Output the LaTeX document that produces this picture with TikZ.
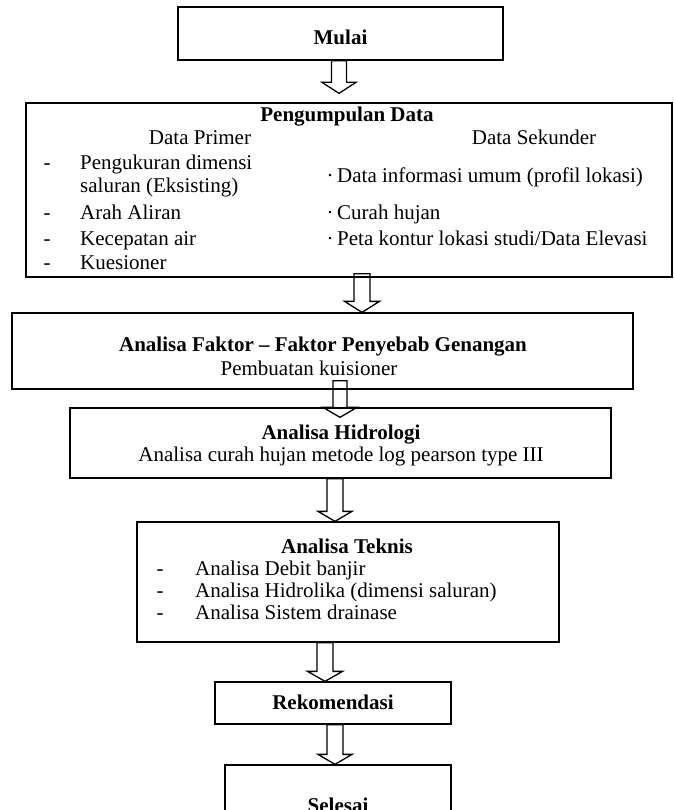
\documentclass[tikz,border=0pt]{standalone}
\usepackage{fontspec}
\setmainfont{Liberation Serif}
\usetikzlibrary{calc}
\newcommand\blockarrow[5]{%
  \draw[blk] let \p1=(#1), \p2=(#2) in
    (\x1-#4pt,\y1) -- (\x1-#4pt,\y2+#3pt) -- (\x1-#5pt,\y2+#3pt) -- (\x1,\y2)
    -- (\x1+#5pt,\y2+#3pt) -- (\x1+#4pt,\y2+#3pt) -- (\x1+#4pt,\y1) -- cycle;}
\begin{document}
\begin{tikzpicture}[x=1pt,y=-1pt,
  box/.style={draw, line width=1.3pt, fill=white, inner sep=0pt},
  txt/.style={anchor=base, inner sep=0pt, font=\fontsize{21}{25}\selectfont},
  btxt/.style={anchor=base, inner sep=0pt, font=\fontsize{21}{25}\selectfont\bfseries},
  ltxt/.style={txt, anchor=base west},
  blk/.style={draw, line width=1.3pt, line join=miter}]
\useasboundingbox (0,0) rectangle (673,810);
\clip (0,0) rectangle (673,810);

% boxes
\node[box, minimum width=325pt, minimum height=53pt] (mulai) at (340.5,33.5) {};
\node[box, minimum width=646pt, minimum height=174pt] (peng) at (349,190) {};
\node[box, minimum width=621pt, minimum height=76pt] (faktor) at (322.5,351) {};
\node[box, minimum width=541pt, minimum height=70pt] (hidro) at (340.5,443) {};
\node[box, minimum width=422pt, minimum height=120pt] (teknis) at (348,582) {};
\node[box, minimum width=236pt, minimum height=42pt] (rekom) at (333,703) {};
\node[box, minimum width=226pt, minimum height=70pt] (selesai) at (338,800) {};

% texts
\node[btxt] (mulait) at (340.5,45) {Mulai};

\node[btxt] (pengt) at (347,122) {Pengumpulan Data};
\node[txt] (prim) at (200,145) {Data Primer};
\node[txt] (sek) at (534,145) {Data Sekunder};
\node[txt] (pd1) at (47,170) {-};
\node[txt] (pd2) at (47,220) {-};
\node[txt] (pd3) at (47,245) {-};
\node[txt] (pd4) at (47,269) {-};
\node[ltxt] (p1) at (80,170) {Pengukuran dimensi};
\node[ltxt] (p1b) at (80,193) {saluran (Eksisting)};
\node[ltxt] (p2) at (80,220) {Arah Aliran};
\node[ltxt] (p3) at (80,245) {Kecepatan air};
\node[ltxt] (p4) at (80,269) {Kuesioner};
\node[txt] (sd1) at (330,183) {·};
\node[txt] (sd2) at (330,220) {·};
\node[txt] (sd3) at (330,245) {·};
\node[ltxt] (s1) at (337,183) {Data informasi umum (profil lokasi)};
\node[ltxt] (s2) at (337,220) {Curah hujan};
\node[ltxt] (s3) at (337,245) {Peta kontur lokasi studi/Data Elevasi};

\node[btxt] (faktort) at (323,351) {Analisa Faktor – Faktor Penyebab Genangan};
\node[txt] (faktors) at (309,375) {Pembuatan kuisioner};

\node[btxt] (hidrot) at (341,439) {Analisa Hidrologi};
\node[txt] (hidros) at (341,461) {Analisa curah hujan metode log pearson type III};

\node[btxt] (teknist) at (347,553) {Analisa Teknis};
\node[txt] (td1) at (160,575) {-};
\node[txt] (td2) at (160,597) {-};
\node[txt] (td3) at (160,619) {-};
\node[ltxt] (t1) at (195,575) {Analisa Debit banjir};
\node[ltxt] (t2) at (195,597) {Analisa Hidrolika (dimensi saluran)};
\node[ltxt] (t3) at (195,619) {Analisa Sistem drainase};

\node[btxt] (rekomt) at (333,709) {Rekomendasi};
\node[btxt] (selesait) at (338,812) {Selesai};

% block arrows
\coordinate (a1s) at ($(mulai.south)+(-1.5,0)$);
\coordinate (a1e) at ($(a1s|-peng.north)+(0,-9)$);
\blockarrow{a1s}{a1e}{11}{7.5}{17}
\coordinate (a2s) at ($(peng.south)+(13,-4)$);
\coordinate (a2e) at (a2s|-faktor.north);
\blockarrow{a2s}{a2e}{11}{8}{17.5}
\coordinate (a3s) at ($(faktor.south)+(17.5,-9)$);
\coordinate (a3e) at ($(a3s|-hidro.north)+(0,10)$);
\blockarrow{a3s}{a3e}{10}{7}{17}
\coordinate (a4s) at ($(hidro.south)+(-5.5,0)$);
\coordinate (a4e) at (a4s|-teknis.north);
\blockarrow{a4s}{a4e}{10}{8}{17}
\coordinate (a5s) at ($(teknis.south)+(-23,0)$);
\coordinate (a5e) at (a5s|-rekom.north);
\blockarrow{a5s}{a5e}{10}{8}{17.5}
\coordinate (a6s) at ($(rekom.south)+(2,0)$);
\coordinate (a6e) at (a6s|-selesai.north);
\blockarrow{a6s}{a6e}{10}{8}{17}
\end{tikzpicture}
\end{document}
